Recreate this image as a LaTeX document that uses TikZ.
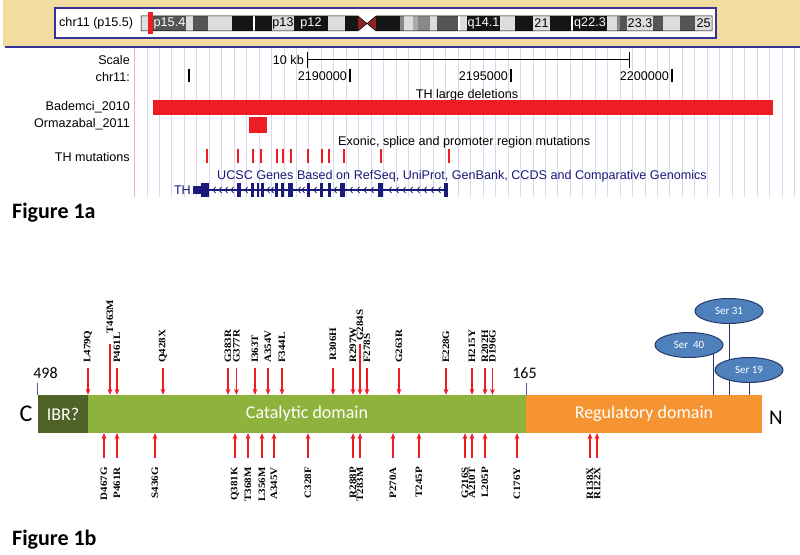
\documentclass[tikz,border=0pt]{standalone}
\usepackage{fontspec}
\setmainfont{Liberation Sans}
\newfontfamily\calibri{Carlito}
\newfontfamily\timesbf{Liberation Serif}[FakeStretch=1.12]
\usetikzlibrary{arrows.meta,shapes.geometric}
\definecolor{ucscblue}{HTML}{333399}
\definecolor{genblue}{HTML}{1A1A78}
\definecolor{mred}{HTML}{EE1D23}
\definecolor{gridc}{HTML}{D8D8EE}
\definecolor{pinkc}{HTML}{F4B4B4}
\definecolor{beige}{HTML}{F3DCA0}
\definecolor{cenred}{HTML}{8E2424}
\definecolor{ibrg}{HTML}{4F6228}
\definecolor{catg}{HTML}{8DB33C}
\definecolor{rego}{HTML}{F79432}
\definecolor{serfill}{HTML}{4F81BD}
\definecolor{serline}{HTML}{25396B}
\definecolor{tickc}{HTML}{5555A5}
\definecolor{gn}{HTML}{DDDDDD}
\definecolor{g25}{HTML}{AAAAAA}
\definecolor{g50}{HTML}{888888}
\definecolor{g75}{HTML}{555555}
\definecolor{g100}{HTML}{151515}
\newcommand{\trkfont}{\fontsize{12.6bp}{14bp}\selectfont}
\newcommand{\mutfont}{\timesbf\bfseries\fontsize{9.8bp}{11bp}\selectfont}
\newcommand{\domfont}{\calibri\fontsize{18bp}{20bp}\selectfont}
\newcommand{\figfont}{\calibri\bfseries\fontsize{22bp}{24bp}\selectfont}
\newcommand{\serfont}{\calibri\fontsize{11bp}{12bp}\selectfont}

\begin{document}
\begin{tikzpicture}[x=1bp,y=-1bp,
  lbl/.style={anchor=east,font=\trkfont,inner sep=0pt},
  txt/.style={font=\trkfont,inner sep=0pt},
  dom/.style={minimum height=38bp,inner sep=0pt,text=white,font=\domfont},
  mtop/.style={rotate=90,anchor=west,font=\mutfont,inner sep=0pt},
  mbot/.style={rotate=90,anchor=east,font=\mutfont,inner sep=0pt},
  ser/.style={ellipse,draw=serline,line width=1bp,fill=serfill,minimum width=68bp,minimum height=25bp,inner sep=0pt,text=white,font=\serfont}]
    \useasboundingbox (0,0) rectangle (800,555);
    \fill[white] (0,0) rectangle (800,555);

    % browser header with the ideogram
    \fill[beige] (3,0) rectangle (800,47);
    \draw[ucscblue,line width=1.5bp] (5,47) -- (800,47);
    \node[draw=ucscblue,line width=1.5bp,fill=white,minimum width=661bp,minimum height=30bp,inner sep=0pt] (ideo) at (385.5,23) {};
    \node[txt,anchor=west] (chrname) at (59,23.5) {chr11 (p15.5)};
    \foreach \a/\b/\c in {141/153/gn, 153/186/g75, 186/193/gn, 193/208/g75, 208/232/gn, 232/253/g100, 253/255/white, 255/272/g100,
        272/294/gn, 294/328/g100, 328/345/gn, 345/358/g100, 376/400/g100, 400/404/g50, 404/413/gn, 413/418/g25, 418/430/g50,
        430/437/gn, 437/458/g75, 458/460/white, 460/467/gn, 467/500/g100, 500/515/gn, 515/533/g100, 533/550/gn, 550/571/g100,
        571/573/white, 573/607/g100, 607/617/gn, 617/620/g50, 620/627/g75, 627/653/gn, 653/663/g75, 663/680/gn, 680/695/g75, 695/712/gn}
      \fill[\c] (\a,16) rectangle (\b,31);
    \fill[cenred] (358,16) -- (367,23.5) -- (358,31) -- cycle;
    \fill[cenred] (376,16) -- (367,23.5) -- (376,31) -- cycle;
    \draw[black,line width=0.5bp] (141,16) -- (358,16) -- (367,23.5) -- (376,16) -- (712,16) -- (712,31) -- (376,31) -- (367,23.5) -- (358,31) -- (141,31) -- cycle;
    \fill[mred] (148,12) rectangle (152.5,34);
    \node[txt,text=white] (p154) at (169.5,23.5) {p15.4};
    \node[txt] (p13) at (283,23.5) {p13};
    \node[txt,text=white] (p12) at (311,23.5) {p12};
    \node[txt,text=white] (q141) at (483.5,23.5) {q14.1};
    \node[txt] (q21) at (541.5,23.5) {21};
    \node[txt,text=white] (q223) at (590,23.5) {q22.3};
    \node[txt] (q233) at (640,23.5) {23.3};
    \node[txt] (q25) at (703.5,23.5) {25};

    % browser tracks
    \draw[pinkc,line width=1bp] (134,48) -- (134,197);
    \foreach \i in {0,...,52}
      \draw[gridc,line width=0.9bp] ({147+12.45*\i},48) -- ({147+12.45*\i},197);
    \node[lbl] (scale) at (130,60) {Scale};
    \node[lbl] (chrpos) at (130,77) {chr11:};
    \node[lbl] (bademci) at (130,107) {Bademci\_2010};
    \node[lbl] (ormaz) at (130,124) {Ormazabal\_2011};
    \node[lbl] (thmut) at (130,157) {TH mutations};
    \node[txt,anchor=east] (tenkb) at (304,60) {10 kb};
    \draw[line width=1bp] (307,52) -- (307,68) (307,60) -- (629,60) (629,52) -- (629,68);
    \node[txt,anchor=east] (p2190) at (347,76) {2190000};
    \node[txt,anchor=east] (p2195) at (508,76) {2195000};
    \node[txt,anchor=east] (p2200) at (669,76) {2200000};
    \draw[line width=1.3bp] (189,69) -- (189,82) (350,69) -- (350,82) (511,69) -- (511,82) (672,69) -- (672,82);
    \node[txt] (dels) at (467,95) {TH large deletions};
    \fill[mred] (153,100) rectangle (773,115);
    \fill[mred] (249,117) rectangle (267,133);
    \node[txt,anchor=west] (exonic) at (338,142) {Exonic, splice and promoter region mutations};
    \foreach \x in {207,238,253,261,277,283,291,308,322,329,344,381,449}
      \fill[mred] ({\x-1.3},149) rectangle ({\x+1.3},163);
    \node[txt,anchor=west,text=genblue] (ucsc) at (217,176) {UCSC Genes Based on RefSeq, UniProt, GenBank, CCDS and Comparative Genomics};
    \node[txt,anchor=east,text=genblue] (thgene) at (191,190) {TH};
    \draw[genblue,line width=1.3bp] (193,190) -- (448,190);
    \fill[genblue] (193,186) rectangle (201,194);
    \foreach \a/\b in {201/209, 237/241, 251/253.5, 256.5/258.5, 261/263.5, 275/278, 281/284, 288/293, 307/310, 320/323, 328/330.5, 340/345, 378/383, 444/448}
      \fill[genblue] (\a,183) rectangle (\b,197);
    \foreach \x in {213,219,225,231,245,267,271,298,302,314,334,350,357,364,371,389,396,403,410,417,424,431,438}
      \draw[genblue,line width=0.8bp] ({\x+2.5},187) -- (\x,190) -- ({\x+2.5},193);
    \node[anchor=west,font=\figfont,inner sep=0pt] (fig1a) at (12,213) {Figure 1a};

    % protein domains
    \node[dom,fill=ibrg,minimum width=50bp] (ibr) at (63,414) {IBR?};
    \node[dom,fill=catg,minimum width=438bp] (cat) at (307,414) {Catalytic domain};
    \node[dom,fill=rego,minimum width=236bp] (reg) at (644,414) {Regulatory domain};
    \node[font=\calibri\fontsize{24bp}{26bp}\selectfont,inner sep=0pt] (cterm) at (26,414) {C};
    \node[font=\calibri\fontsize{21bp}{23bp}\selectfont,inner sep=0pt] (nterm) at (776,418) {N};
    \node[font=\calibri\fontsize{16bp}{18bp}\selectfont,inner sep=0pt] (n498) at (45.5,373) {498};
    \node[font=\calibri\fontsize{16bp}{18bp}\selectfont,inner sep=0pt] (n165) at (524.5,373) {165};
    \draw[tickc,line width=1bp] (ibr.north west) -- ++(0,-12);
    \draw[tickc,line width=1bp] (cat.north east) -- ++(0,-12);

    \node[ser] (ser31) at (729,311) {Ser 31};
    \node[ser] (ser40) at (689,345) {Ser\ \ 40};
    \draw[serline,line width=1bp] (ser31.south) -- (ser31.south |- reg.north);
    \draw[serline,line width=1bp] (ser40.south east) -- (ser40.south east |- reg.north);
    \node[ser] (ser19) at (749,370) {Ser 19};
    \draw[serline,line width=1bp] (ser19.south) -- (ser19.south |- reg.north);

    % mutations above the bar
    \coordinate (tstem) at (0,368);
    \coordinate (lstem) at (0,344);
    \coordinate (bstem) at (0,458);
    \node[mtop] (L479Q) at (88,363) {L479Q};
    \node[mtop] (T463M) at (110,334) {T463M};
    \node[mtop] (P461L) at (117,363) {P461L};
    \node[mtop] (Q428X) at (163,363) {Q428X};
    \node[mtop] (G383R) at (228,363) {G383R};
    \node[mtop] (G377R) at (236.5,363) {G377R};
    \node[mtop] (I363T) at (255,363) {I363T};
    \node[mtop] (A354V) at (268,363) {A354V};
    \node[mtop] (F344L) at (282,363) {F344L};
    \node[mtop] (R306H) at (333,361) {R306H};
    \node[mtop] (R297W) at (353,363) {R297W};
    \node[mtop] (G284S) at (360,341) {G284S};
    \node[mtop] (F278S) at (367,363) {F278S};
    \node[mtop] (G263R) at (399,363) {G263R};
    \node[mtop] (E228G) at (446,363) {E228G};
    \node[mtop] (H215Y) at (472,363) {H215Y};
    \node[mtop] (R202H) at (485,363) {R202H};
    \node[mtop] (D196G) at (492.5,363) {D196G};

    % mutations below the bar
    \node[mbot] (D467G) at (104,467) {D467G};
    \node[mbot] (P461R) at (117,467) {P461R};
    \node[mbot] (S436G) at (155,467) {S436G};
    \node[mbot] (Q381K) at (235,467) {Q381K};
    \node[mbot] (T368M) at (248,467) {T368M};
    \node[mbot] (L356M) at (262,467) {L356M};
    \node[mbot] (A345V) at (274,467) {A345V};
    \node[mbot] (C328F) at (308,467) {C328F};
    \node[mbot] (R288P) at (353,467) {R288P};
    \node[mbot] (T283M) at (360,467) {T283M};
    \node[mbot] (P270A) at (393,467) {P270A};
    \node[mbot] (T245P) at (419,467) {T245P};
    \node[mbot] (G216S) at (465,467) {G216S};
    \node[mbot] (A210T) at (472,467) {A210T};
    \node[mbot] (L205P) at (485,467) {L205P};
    \node[mbot] (C176Y) at (517,467) {C176Y};
    \node[mbot] (R138X) at (590,467) {R138X};
    \node[mbot] (R122X) at (597,467) {R122X};

   \begin{scope}[mred,line width=1.6bp,-{Stealth[length=6bp,width=5bp]}]
    \draw (L479Q.west |- tstem) -- (L479Q.west |- cat.north);
    \draw (T463M.west |- lstem) -- (T463M.west |- cat.north);
    \draw (P461L.west |- tstem) -- (P461L.west |- cat.north);
    \draw (Q428X.west |- tstem) -- (Q428X.west |- cat.north);
    \draw (G383R.west |- tstem) -- (G383R.west |- cat.north);
    \draw (G377R.west |- tstem) -- (G377R.west |- cat.north);
    \draw (I363T.west |- tstem) -- (I363T.west |- cat.north);
    \draw (A354V.west |- tstem) -- (A354V.west |- cat.north);
    \draw (F344L.west |- tstem) -- (F344L.west |- cat.north);
    \draw (R306H.west |- tstem) -- (R306H.west |- cat.north);
    \draw (R297W.west |- tstem) -- (R297W.west |- cat.north);
    \draw (G284S.west |- lstem) -- (G284S.west |- cat.north);
    \draw (F278S.west |- tstem) -- (F278S.west |- cat.north);
    \draw (G263R.west |- tstem) -- (G263R.west |- cat.north);
    \draw (E228G.west |- tstem) -- (E228G.west |- cat.north);
    \draw (H215Y.west |- tstem) -- (H215Y.west |- cat.north);
    \draw (R202H.west |- tstem) -- (R202H.west |- cat.north);
    \draw (D196G.west |- tstem) -- (D196G.west |- cat.north);

    \draw (D467G.east |- bstem) -- (D467G.east |- cat.south);
    \draw (P461R.east |- bstem) -- (P461R.east |- cat.south);
    \draw (S436G.east |- bstem) -- (S436G.east |- cat.south);
    \draw (Q381K.east |- bstem) -- (Q381K.east |- cat.south);
    \draw (T368M.east |- bstem) -- (T368M.east |- cat.south);
    \draw (L356M.east |- bstem) -- (L356M.east |- cat.south);
    \draw (A345V.east |- bstem) -- (A345V.east |- cat.south);
    \draw (C328F.east |- bstem) -- (C328F.east |- cat.south);
    \draw (R288P.east |- bstem) -- (R288P.east |- cat.south);
    \draw (T283M.east |- bstem) -- (T283M.east |- cat.south);
    \draw (P270A.east |- bstem) -- (P270A.east |- cat.south);
    \draw (T245P.east |- bstem) -- (T245P.east |- cat.south);
    \draw (G216S.east |- bstem) -- (G216S.east |- cat.south);
    \draw (A210T.east |- bstem) -- (A210T.east |- cat.south);
    \draw (L205P.east |- bstem) -- (L205P.east |- cat.south);
    \draw (C176Y.east |- bstem) -- (C176Y.east |- cat.south);
    \draw (R138X.east |- bstem) -- (R138X.east |- reg.south);
    \draw (R122X.east |- bstem) -- (R122X.east |- reg.south);
   \end{scope}

    \node[anchor=west,font=\figfont,inner sep=0pt] (fig1b) at (12,540) {Figure 1b};
\end{tikzpicture}
\end{document}
